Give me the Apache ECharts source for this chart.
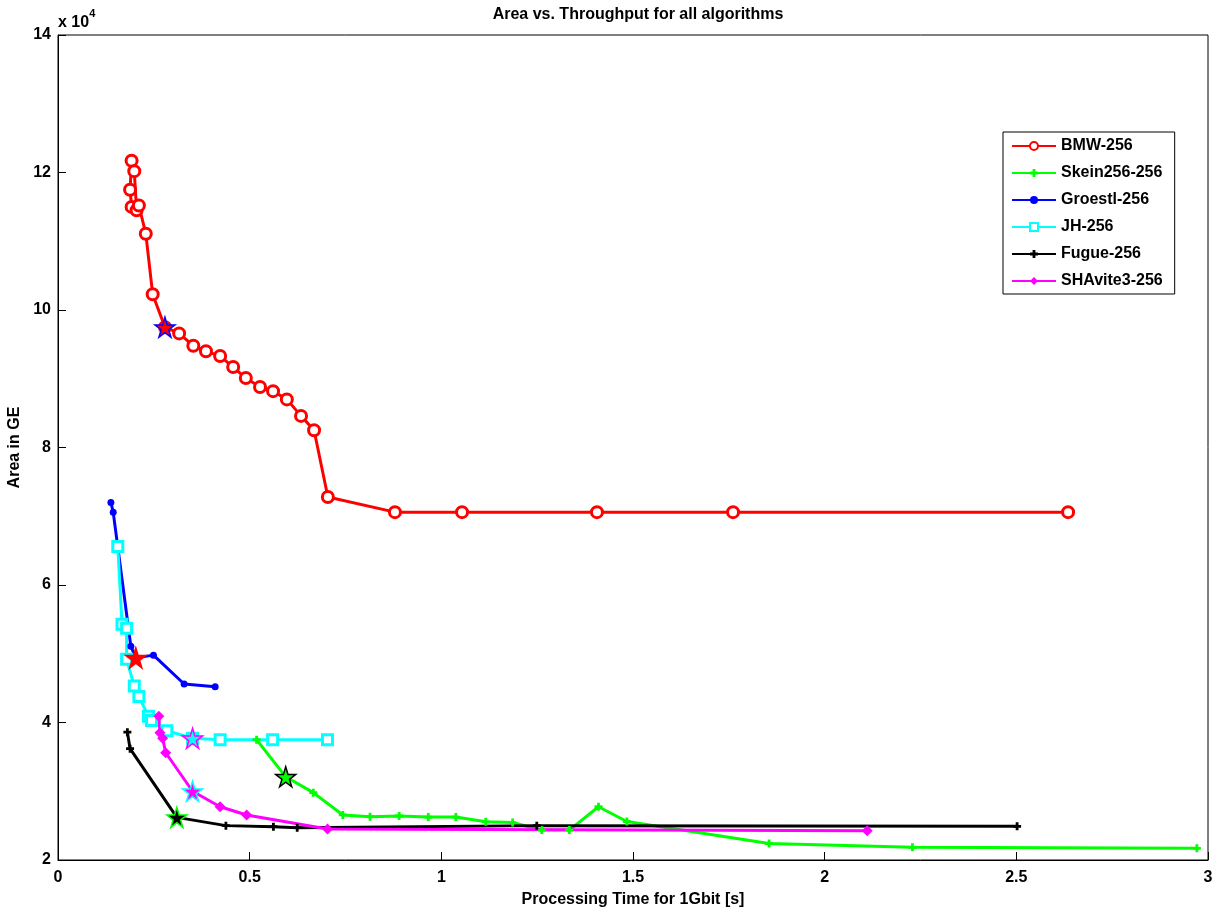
<!doctype html>
<html>
  <head>
    <meta charset="UTF-8" />
    <title>Area vs. Throughput</title>
    <style>
      body { margin: 0; background: #fff; }
      #chart { width: 1222px; height: 916px; }
    </style>
  </head>
  <body>
    <div id="chart"></div>
    <script src="https://cdn.jsdelivr.net/npm/echarts@6/dist/echarts.min.js"></script>
    <script>
      // [time for 1 Gbit in s, area in GE]
      const bmw = [[0.192, 115000], [0.188, 117500], [0.192, 121700], [0.199, 120200], [0.205, 114500],
        [0.211, 115200], [0.229, 111100], [0.247, 102300], [0.279, 97500], [0.316, 96600], [0.353, 94800],
        [0.386, 94000], [0.423, 93300], [0.457, 91700], [0.490, 90100], [0.527, 88800], [0.561, 88200],
        [0.597, 87000], [0.634, 84600], [0.668, 82500], [0.704, 72800], [0.879, 70600], [1.054, 70600],
        [1.406, 70600], [1.761, 70600], [2.635, 70600]]
      const skein = [[0.518, 37500], [0.594, 32100], [0.666, 29800], [0.743, 26550], [0.814, 26300],
        [0.890, 26400], [0.966, 26250], [1.038, 26250], [1.116, 25550], [1.186, 25450], [1.262, 24350],
        [1.334, 24350], [1.410, 27750], [1.484, 25600], [1.855, 22400], [2.229, 21850], [2.971, 21700]]
      const groestl = [[0.138, 72000], [0.144, 70600], [0.190, 51100], [0.203, 49400], [0.249, 49800],
        [0.329, 45600], [0.410, 45200]]
      const jh = [[0.156, 65600], [0.167, 54300], [0.179, 53700], [0.179, 49200], [0.199, 45300],
        [0.211, 43800], [0.236, 40900], [0.244, 40300], [0.284, 38800], [0.351, 37700], [0.423, 37500],
        [0.560, 37500], [0.703, 37500]]
      const fugue = [[0.181, 38600], [0.188, 36200], [0.310, 26200], [0.438, 25000], [0.562, 24850],
        [0.624, 24700], [1.249, 25000], [2.502, 24900]]
      const shavite = [[0.263, 40900], [0.266, 38500], [0.273, 37700], [0.281, 35600], [0.351, 30000],
        [0.423, 27750], [0.492, 26550], [0.703, 24500], [2.111, 24250]]
      // highlighted points (stars)
      const stars = [
        { name: 'BMW-256', point: [0.279, 97500], face: '#ff0000', edge: '#0000ff' },
        { name: 'Groestl-256', point: [0.203, 49400], face: '#ff0000', edge: '#ff0000' },
        { name: 'JH-256', point: [0.351, 37700], face: '#00ffff', edge: '#ff00ff' },
        { name: 'Skein256-256', point: [0.594, 32100], face: '#00ff00', edge: '#000000' },
        { name: 'Fugue-256', point: [0.310, 26200], face: '#000000', edge: '#00ff00' },
        { name: 'SHAvite3-256', point: [0.351, 30000], face: '#ff00ff', edge: '#00ffff' }
      ]

      const font = '"Liberation Sans", Arial, sans-serif'
      const plus = 'path://M2.6,0H5.4V2.6H8V5.4H5.4V8H2.6V5.4H0V2.6H2.6Z'
      const star = 'path://M50,0L61,35L98,35L68,57L79,91L50,70L21,91L32,57L2,35L39,35Z'

      function line(name, data, color, symbol, size, filled) {
        return {
          name: name,
          type: 'line',
          data: data,
          symbol: symbol,
          symbolSize: size,
          showAllSymbol: true,
          lineStyle: { color: color, width: 3 },
          itemStyle: {
            color: filled ? color : '#fff',
            borderColor: color,
            borderWidth: filled ? 0 : 3
          },
          emphasis: { disabled: true },
          animation: false
        }
      }

      const series = [
        line('BMW-256', bmw, '#ff0000', 'circle', 11, false),
        line('Skein256-256', skein, '#00ff00', plus, 8, true),
        line('Groestl-256', groestl, '#0000ff', 'circle', 7, true),
        line('JH-256', jh, '#00ffff', 'rect', 10, false),
        line('Fugue-256', fugue, '#000000', plus, 8, true),
        line('SHAvite3-256', shavite, '#ff00ff', 'diamond', 11, true)
      ]
      stars.forEach(function (s) {
        series.push({
          type: 'scatter',
          data: [s.point],
          symbol: star,
          symbolSize: 20,
          z: 5,
          itemStyle: { color: s.face, borderColor: s.edge, borderWidth: 1.5, opacity: 1 },
          emphasis: { disabled: true },
          animation: false
        })
      })

      const chart = echarts.init(document.getElementById('chart'))
      chart.setOption({
        animation: false,
        title: {
          text: 'Area vs. Throughput for all algorithms',
          left: 633,
          top: 2,
          textAlign: 'center',
          textStyle: { fontFamily: font, fontSize: 16, fontWeight: 'bold', color: '#000' }
        },
        grid: {
          left: 58, right: 14, top: 35, bottom: 56,
          outerBoundsMode: 'none',
          show: true, borderColor: '#000', borderWidth: 1
        },
        legend: {
          orient: 'vertical',
          left: 1003,
          top: 132,
          padding: [6, 12, 5, 8],
          itemGap: 11,
          itemWidth: 44,
          itemHeight: 10,
          borderColor: '#000',
          borderWidth: 1,
          backgroundColor: '#fff',
          data: ['BMW-256', 'Skein256-256', 'Groestl-256', 'JH-256', 'Fugue-256', 'SHAvite3-256'],
          textStyle: { fontFamily: font, fontSize: 16, fontWeight: 'bold', color: '#000' }
        },
        xAxis: {
          type: 'value',
          min: 0, max: 3, interval: 0.5,
          name: 'Processing Time for 1Gbit [s]',
          nameLocation: 'middle',
          nameGap: 32,
          nameTextStyle: { fontFamily: font, fontSize: 16, fontWeight: 'bold', color: '#000' },
          axisLine: { lineStyle: { color: '#000' } },
          axisTick: { inside: true, length: 8, lineStyle: { color: '#000' } },
          axisLabel: { fontFamily: font, fontSize: 16, fontWeight: 'bold', color: '#000', margin: 10 },
          splitLine: { show: false }
        },
        yAxis: {
          type: 'value',
          min: 20000, max: 140000, interval: 20000,
          name: 'Area in GE',
          nameLocation: 'middle',
          nameGap: 30,
          nameTextStyle: { fontFamily: font, fontSize: 16, fontWeight: 'bold', color: '#000' },
          axisLine: { show: true, lineStyle: { color: '#000' } },
          axisTick: { show: true, inside: true, length: 8, lineStyle: { color: '#000' } },
          axisLabel: {
            fontFamily: font, fontSize: 16, fontWeight: 'bold', color: '#000', margin: 7,
            formatter: function (v) { return String(v / 10000) }
          },
          splitLine: { show: false }
        },
        graphic: [{
          type: 'text',
          left: 58,
          top: 8,
          style: {
            text: '{b|x 10}{s|4}',
            rich: {
              b: { fontFamily: font, fontSize: 16, fontWeight: 'bold', fill: '#000', padding: [10, 0, 0, 0] },
              s: { fontFamily: font, fontSize: 11, fontWeight: 'bold', fill: '#000', padding: [0, 0, 8, 0] }
            }
          }
        }],
        series: series
      })
    </script>
  </body>
</html>
